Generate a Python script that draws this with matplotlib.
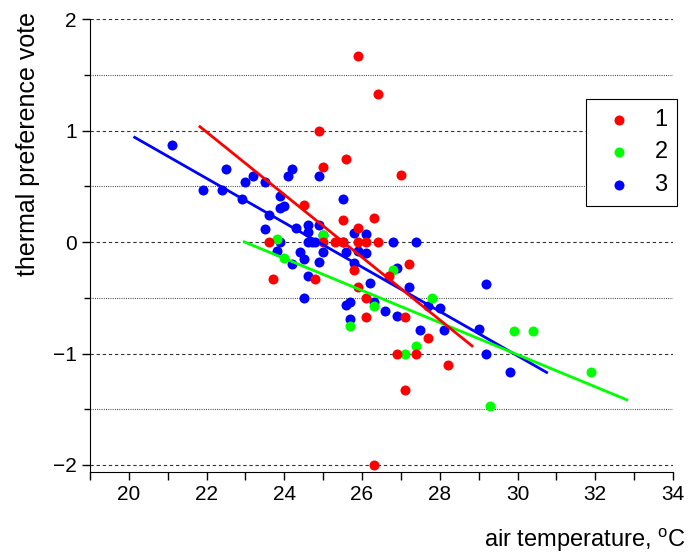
import numpy as np
import matplotlib.pyplot as plt

plt.rcParams['font.family'] = ['Liberation Sans', 'DejaVu Sans']
plt.rcParams['mathtext.fontset'] = 'custom'
plt.rcParams['mathtext.rm'] = 'Liberation Sans'

# group 1 (red)
x1 = [25.9, 26.4, 24.9, 25.0, 25.6, 27.0, 24.5, 25.5, 26.3, 25.9, 23.6, 25.0,
      25.3, 25.5, 25.9, 26.1, 26.4, 23.7, 24.8, 25.8, 27.2, 26.7, 25.9, 26.1,
      26.1, 27.1, 27.7, 26.9, 27.4, 28.2, 27.1, 26.3]
y1 = [1.67, 1.33, 1.0, 0.67, 0.75, 0.6, 0.33, 0.2, 0.22, 0.13, 0.0, 0.0,
      0.0, 0.0, 0.0, 0.0, 0.0, -0.33, -0.33, -0.25, -0.2, -0.3, -0.4, -0.5,
      -0.67, -0.67, -0.86, -1.0, -1.0, -1.1, -1.33, -2.0]

# group 2 (green)
x2 = [23.8, 24.0, 25.0, 26.8, 26.3, 25.7, 27.8, 27.4, 27.1, 29.9, 30.4, 29.3, 31.9]
y2 = [0.03, -0.14, 0.06, -0.25, -0.57, -0.75, -0.5, -0.93, -1.0, -0.8, -0.8, -1.47, -1.17]

# group 3 (blue)
x3 = [21.1, 22.5, 21.9, 22.4, 22.9, 23.0, 23.2, 23.5, 24.2, 24.1, 23.9, 23.9,
      24.0, 23.6, 23.5, 24.3, 24.6, 24.6, 24.9, 25.5, 24.9, 25.0, 25.8, 26.1,
      23.9, 24.6, 24.7, 24.8, 25.5, 26.8, 27.4, 23.8, 24.4, 25.0, 25.6, 25.9,
      26.1, 24.2, 24.5, 24.9, 25.8, 24.6, 24.5, 26.9, 26.2, 27.2, 25.6, 25.7,
      26.3, 26.6, 26.9, 25.7, 27.7, 28.0, 27.5, 28.1, 29.0, 29.2, 29.2, 29.8]
y3 = [0.87, 0.66, 0.47, 0.47, 0.39, 0.54, 0.59, 0.54, 0.66, 0.59, 0.41, 0.31,
      0.32, 0.24, 0.12, 0.13, 0.15, 0.09, 0.59, 0.39, 0.15, 0.06, 0.08, 0.07,
      0.0, 0.0, 0.0, 0.0, 0.0, 0.0, 0.0, -0.08, -0.09, -0.09, -0.09, -0.08,
      -0.1, -0.2, -0.15, -0.18, -0.19, -0.3, -0.5, -0.23, -0.37, -0.4, -0.56, -0.54,
      -0.54, -0.62, -0.66, -0.69, -0.57, -0.59, -0.79, -0.79, -0.78, -0.38, -1.0, -1.17]

# linear fits: intercept, slope, x range
fit1 = [7.17, -0.281, 21.83, 28.83]
fit2 = [3.31, -0.144, 22.97, 32.81]
fit3 = [4.95, -0.199, 20.15, 30.75]

labels = ['1', '2', '3']
colors = ['#ff0000', '#00ff00', '#0000ff']

fig = plt.figure(figsize=(6.92, 5.54), dpi=100)
ax = fig.add_axes([0.130, 0.148, 0.8425, 0.8173])

for yv in np.arange(-2, 2.01, 0.5):
    if yv == int(yv):
        ax.axhline(yv, color='#333333', lw=0.8, dashes=(3, 2.5), zorder=0)
    else:
        ax.axhline(yv, color='#333333', lw=0.8, dashes=(0.8, 1.2), zorder=0)

ax.scatter(x3, y3, s=52, color=colors[2], label=labels[2], zorder=2, linewidths=0)
ax.scatter(x2, y2, s=52, color=colors[1], label=labels[1], zorder=2, linewidths=0)
ax.scatter(x1, y1, s=52, color=colors[0], label=labels[0], zorder=2, linewidths=0)

for fit, c in [(fit3, colors[2]), (fit2, colors[1]), (fit1, colors[0])]:
    xs = np.array([fit[2], fit[3]])
    ax.plot(xs, fit[0] + fit[1] * xs, color=c, lw=2, zorder=3)

ax.set_xlim(19, 34)
ax.set_ylim(-2.063, 2)
ax.set_xticks(np.arange(20, 35, 2))
ax.set_xticks(np.arange(19, 35, 1), minor=True)
ax.set_yticks([-2, -1, 0, 1, 2])
ax.set_yticks([-1.5, -0.5, 0.5, 1.5], minor=True)
ax.tick_params(which='major', direction='out', length=6, width=1, labelsize=15)
ax.tick_params(axis='x', which='minor', direction='out', length=6, width=1)
ax.tick_params(axis='y', which='minor', direction='out', length=4, width=1)
ax.spines['top'].set_visible(False)
ax.spines['right'].set_visible(False)

ax.set_ylabel('thermal preference vote', fontsize=18, loc='top')
ax.yaxis.set_label_coords(-0.086, 1.015)
ax.set_xlabel(r'air temperature, $^{\rm o}$C', fontsize=17, loc='right')
ax.xaxis.set_label_coords(1.021, -0.12)

h, l = ax.get_legend_handles_labels()
leg = ax.legend(h[::-1], l[::-1], loc='upper right', bbox_to_anchor=(1.007, 0.823),
                borderaxespad=0, fontsize=17, fancybox=False, framealpha=1,
                edgecolor='black', handletextpad=0.5, labelspacing=0.45,
                scatterpoints=1, markerscale=1.0)
leg.get_frame().set_linewidth(0.8)

plt.savefig('out.png', dpi=100)
